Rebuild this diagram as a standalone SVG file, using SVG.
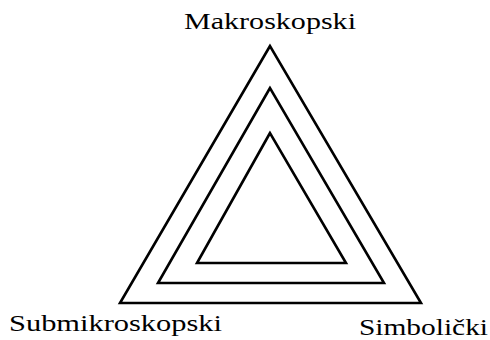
<svg xmlns="http://www.w3.org/2000/svg" width="490" height="340" viewBox="0 0 490 340">
<style>
.tri{fill:none;stroke:#000;stroke-width:2.6;stroke-linejoin:miter}
.lbl{font-family:'Liberation Serif','Times New Roman','DejaVu Serif',serif;font-size:24px;fill:#000}
</style>
<rect width="490" height="340" fill="#fff"/>
<g id="connectors"></g>
<g id="outer"><polygon class="tri" points="270,46 120,303 421,303"/></g>
<g id="middle"><polygon class="tri" points="270,88 158,283 384,283"/></g>
<g id="inner"><polygon class="tri" points="270,133 197,263 346,263"/></g>
<g id="makro"><text class="lbl" font-family="Liberation Serif, serif" x="184" y="29" textLength="172" lengthAdjust="spacingAndGlyphs">Makroskopski</text></g>
<g id="submikro"><text class="lbl" font-family="Liberation Serif, serif" x="9" y="331" textLength="213" lengthAdjust="spacingAndGlyphs">Submikroskopski</text></g>
<g id="simbolicki"><text class="lbl" font-family="Liberation Serif, serif" x="359" y="335" textLength="129" lengthAdjust="spacingAndGlyphs">Simbolički</text></g>
</svg>
